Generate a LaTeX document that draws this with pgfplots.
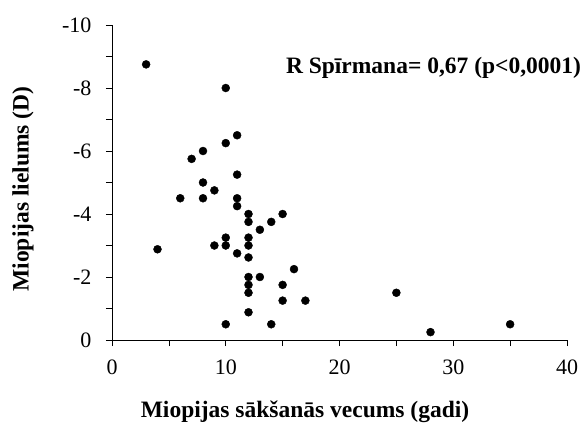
\documentclass[border=0pt]{standalone}
\usepackage{fontspec}
\setmainfont{Liberation Serif}
\usepackage{pgfplots}
\pgfplotsset{compat=1.18}
\begin{document}
\begin{tikzpicture}[font=\fontsize{22}{26}\selectfont]
\path[use as bounding box] (0,0) rectangle (587pt,426pt);
\begin{axis}[
  at={(112pt,86pt)}, anchor=south west,
  scale only axis, width=455pt, height=315pt,
  xmin=0, xmax=40, ymin=-10, ymax=0, y dir=reverse,
  axis x line*=bottom, axis y line*=left,
  axis line style={black, line width=0.7pt, -},
  xtick={0,10,20,30,40}, minor xtick={5,15,25,35},
  xticklabels={0,10,20,30,40},
  ytick={-10,-8,-6,-4,-2,0}, minor ytick={-9,-7,-5,-3,-1},
  yticklabels={-10,-8,-6,-4,-2,0},
  xticklabel style={yshift=-10pt},
  yticklabel style={xshift=-11pt},
  tick align=outside, major tick length=6pt, minor tick length=6pt,
  tick style={black, line width=0.7pt},
  clip=false,
]
\addplot[only marks, mark=*, mark size=4pt, black] coordinates {
(3,-8.75) (10,-8) (11,-6.5) (10,-6.25) (8,-6) (7,-5.75) (11,-5.25) (8,-5)
(9,-4.75) (6,-4.5) (8,-4.5) (11,-4.5) (11,-4.25) (12,-4) (15,-4) (12,-3.75)
(14,-3.75) (13,-3.5) (10,-3.25) (12,-3.25) (4,-2.88) (9,-3) (10,-3) (12,-3)
(11,-2.75) (12,-2.62) (16,-2.25) (12,-2) (13,-2) (12,-1.75) (15,-1.75) (12,-1.5)
(15,-1.25) (17,-1.25) (12,-0.88) (10,-0.5) (14,-0.5) (25,-1.5) (28,-0.25) (35,-0.5)
};
\node[anchor=east, font=\fontsize{23.5}{28}\selectfont\bfseries] at (axis cs:41.55,-8.63) {R Spīrmana= 0,67 (p<0,0001)};
\end{axis}
\node[font=\fontsize{23.5}{28}\selectfont\bfseries, anchor=base] at (305pt,8pt) {Miopijas sākšanās vecums (gadi)};
\node[font=\fontsize{23.5}{28}\selectfont\bfseries, rotate=90] at (23pt,237pt) {Miopijas lielums (D)};
\end{tikzpicture}
\end{document}
